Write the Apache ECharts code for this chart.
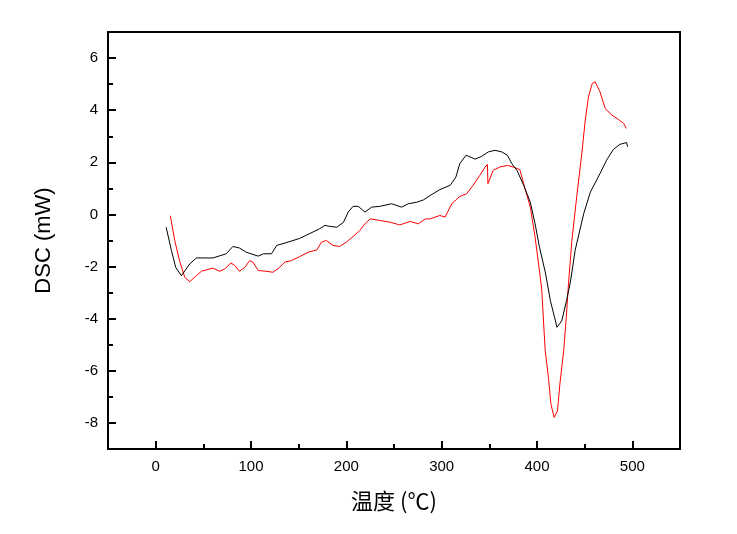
<!DOCTYPE html>
<html>
<head>
<meta charset="utf-8">
<script src="https://cdn.jsdelivr.net/npm/echarts@6/dist/echarts.min.js"></script>
<style>
  html, body { margin: 0; padding: 0; background: #fff; }
  #dsc { width: 737px; height: 534px; }
</style>
</head>
<body>
<div id="dsc"></div>
<script>
// black curve
var tempBlack = [11, 16.5, 21, 27, 35.7, 42.7, 60, 74, 81, 88, 95, 107.5, 113, 121.5, 127, 139, 151, 172, 177.5, 183, 190, 197, 202, 207, 212.5, 219.5, 226.5, 235, 247.5, 258, 265, 274, 281, 288, 298, 309, 315, 319, 325.6, 331.6, 335, 342, 349, 356, 363, 369, 373.6, 379, 386, 393, 398, 402.6, 408.6, 414, 421, 426, 431, 435, 440, 449, 456, 466, 473, 480, 487, 494, 495]
var dscBlack = [-0.49, -1.38, -2.03, -2.35, -1.9, -1.67, -1.67, -1.51, -1.23, -1.29, -1.45, -1.6, -1.51, -1.51, -1.19, -1.06, -0.92, -0.55, -0.42, -0.46, -0.49, -0.3, 0.09, 0.31, 0.31, 0.09, 0.28, 0.31, 0.41, 0.28, 0.41, 0.47, 0.56, 0.73, 0.95, 1.12, 1.44, 1.95, 2.27, 2.18, 2.12, 2.23, 2.4, 2.46, 2.4, 2.27, 1.95, 1.69, 1.12, 0.47, -0.36, -1.26, -2.2, -3.3, -4.33, -4.08, -3.3, -2.6, -1.38, 0.03, 0.86, 1.56, 2.08, 2.49, 2.69, 2.76, 2.6]

// red curve
var tempRed = [15.4, 20, 25, 30.5, 35.7, 42.7, 48, 53, 60, 67, 72.5, 79, 83, 88, 93.5, 98.7, 102, 107.5, 116, 123, 130, 135.5, 142.5, 151, 160, 169, 174, 179, 186, 193, 200, 207, 214, 219.5, 225, 235, 246, 256, 267, 275.5, 283, 288, 298, 303.6, 310.6, 319, 326, 333, 340, 345.6, 348, 348.5, 354, 361, 369, 375, 382, 386, 393, 398, 403, 405, 408.6, 412, 414.6, 418, 421.5, 424, 428, 430.7, 433, 436.6, 442, 447, 450.6, 454, 458, 461, 466, 471.6, 478.6, 485.6, 491, 493.7]
var dscRed = [-0.05, -1.0, -1.77, -2.41, -2.58, -2.35, -2.18, -2.13, -2.06, -2.18, -2.09, -1.86, -1.96, -2.18, -2.03, -1.77, -1.83, -2.15, -2.18, -2.22, -2.03, -1.83, -1.77, -1.62, -1.45, -1.36, -1.06, -1.0, -1.19, -1.23, -1.06, -0.85, -0.62, -0.36, -0.17, -0.23, -0.3, -0.4, -0.27, -0.36, -0.17, -0.17, -0.04, -0.1, 0.41, 0.69, 0.79, 1.12, 1.5, 1.82, 1.92, 1.18, 1.69, 1.82, 1.88, 1.82, 1.72, 1.18, 0.28, -0.87, -2.28, -2.9, -5.23, -6.26, -7.28, -7.79, -7.54, -6.51, -5.23, -3.95, -2.67, -1.0, 0.79, 2.33, 3.62, 4.51, 5.03, 5.09, 4.71, 4.06, 3.81, 3.64, 3.49, 3.3]

// tick positions
var xMajor = [0, 100, 200, 300, 400, 500]
var xMinor = [50, 150, 250, 350, 450]
var yMajor = [-8, -6, -4, -2, 0, 2, 4, 6]
var yMinor = [-7, -5, -3, -1, 1, 3, 5]

function pairs(xs, ys) {
  return xs.map(function (x, i) { return [x, ys[i]] })
}

var myChart = echarts.init(document.getElementById('dsc'))
var labelFont = { fontFamily: 'Liberation Sans, Arial, sans-serif', fontSize: 15, color: '#000' }
var blackLine = { color: '#000', width: 2 }

const option = {
  animation: false,
  backgroundColor: '#fff',
  grid: {
    left: 108, right: 57, top: 32, bottom: 85,
    show: true, borderColor: '#000', borderWidth: 2
  },
  xAxis: [
    {
      type: 'value',
      min: -50, max: 550, interval: 50,
      name: '温度 (℃)',
      nameLocation: 'middle',
      nameGap: 41,
      nameTextStyle: { fontFamily: 'Noto Sans CJK SC', fontSize: 22, color: '#000' },
      axisLine: { show: true, onZero: false, lineStyle: blackLine },
      axisTick: { show: true, inside: true, length: 8, customValues: xMajor, lineStyle: blackLine },
      axisLabel: Object.assign({ margin: 10, customValues: xMajor }, labelFont),
      splitLine: { show: false }
    },
    {
      type: 'value',
      position: 'bottom',
      min: -50, max: 550, interval: 50,
      axisLine: { show: false, onZero: false },
      axisTick: { show: true, inside: true, length: 5, customValues: xMinor, lineStyle: blackLine },
      axisLabel: { show: false },
      splitLine: { show: false }
    }
  ],
  yAxis: [
    {
      type: 'value',
      min: -9, max: 7, interval: 1,
      name: 'DSC (mW)',
      nameLocation: 'middle',
      nameGap: 53,
      nameTextStyle: { fontFamily: 'Liberation Sans, Arial, sans-serif', fontSize: 22, color: '#000' },
      axisLine: { show: true, onZero: false, lineStyle: blackLine },
      axisTick: { show: true, inside: true, length: 8, customValues: yMajor, lineStyle: blackLine },
      axisLabel: Object.assign({ margin: 10, customValues: yMajor }, labelFont),
      splitLine: { show: false }
    },
    {
      type: 'value',
      position: 'left',
      min: -9, max: 7, interval: 1,
      axisLine: { show: false, onZero: false },
      axisTick: { show: true, inside: true, length: 5, customValues: yMinor, lineStyle: blackLine },
      axisLabel: { show: false },
      splitLine: { show: false }
    }
  ],
  series: [
    {
      name: 'black',
      type: 'line',
      data: pairs(tempBlack, dscBlack),
      showSymbol: false,
      lineStyle: { color: '#000', width: 1 },
      z: 3
    },
    {
      name: 'red',
      type: 'line',
      data: pairs(tempRed, dscRed),
      showSymbol: false,
      lineStyle: { color: '#ff0000', width: 1 },
      z: 2
    }
  ]
}
option && myChart.setOption(option)
</script>
</body>
</html>
